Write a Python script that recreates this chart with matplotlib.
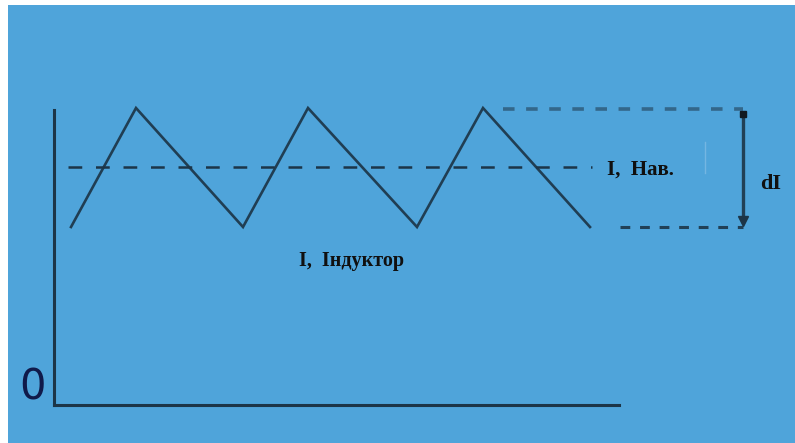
"""Inductor current ripple sketch: triangle wave, average level and dI span."""

import matplotlib
matplotlib.use("Agg")
import matplotlib.pyplot as plt
from matplotlib.patches import Rectangle

# time / current samples (arbitrary units, origin at the axes corner)
t_wave = [17, 82, 189, 254, 363, 429, 536]
i_wave = [178, 297, 178, 297, 178, 297, 178]
i_min, i_max = 178, 296
i_avg = 238
t_avg = [14, 538]
t_top = [449, 689]
t_bottom = [566, 689]
t_axis_end = 565
i_axis_end = 295

label_avg = "I,  Нав."
label_wave = "I,  Індуктор"
label_delta = "dI"
label_zero = "0"

BLUE = "#4fa4da"
INK = "#1c3548"

fig = plt.figure(figsize=(7.95, 4.43), dpi=100)
fig.patch.set_facecolor("white")
fig.patches.append(Rectangle((8 / 795, 0), 1, 1 - 5 / 443, transform=fig.transFigure,
                             facecolor=BLUE, edgecolor="none", zorder=-5))

ax = fig.add_axes([0, 0, 1, 1])
ax.set_zorder(1)
ax.set_facecolor("none")
ax.set_xlim(-54, 741)
ax.set_ylim(-38, 405)
ax.set_xticks([])
ax.set_yticks([])
for side in ("top", "right"):
    ax.spines[side].set_visible(False)
ax.spines["left"].set_position(("data", 0))
ax.spines["bottom"].set_position(("data", 0))
ax.spines["left"].set_bounds(0, i_axis_end)
ax.spines["bottom"].set_bounds(0, t_axis_end)
for side in ("left", "bottom"):
    ax.spines[side].set_color(INK)
    ax.spines[side].set_linewidth(2.2)

ax.plot(t_wave, i_wave, color=INK, lw=1.9, alpha=0.92, solid_joinstyle="miter")
ax.plot(t_avg, [i_avg, i_avg], color=INK, lw=1.8, dashes=(5.5, 5.5))
ax.plot(t_top, [i_max, i_max], color=INK, lw=2.6, alpha=0.55, dashes=(3.2, 3.2))
ax.plot(t_bottom, [i_min, i_min], color=INK, lw=2.2, alpha=0.9, dashes=(3.2, 3.2))

# dI arrow
ax.plot([t_top[1], t_top[1]], [i_max - 5, i_min + 6], color=INK, lw=2.4, alpha=0.9)
ax.plot(t_top[1], i_max - 5, marker="s", ms=4, color="#111a22")
ax.plot(t_top[1], i_min + 6, marker="v", ms=7, color=INK)
ax.plot([651, 651], [232, 263], color="#74b6e2", lw=1)

serif = dict(family="Liberation Serif", weight="bold", color="#101010")
ax.text(553, 235, label_avg, fontsize=15, ha="left", va="center", **serif)
ax.text(706, 221, label_delta, fontsize=16, ha="left", va="center", **serif)
ax.text(298, 144, label_wave, fontsize=14.5, ha="center", va="center", **serif)
ax.text(-22, 17, label_zero, fontsize=30, ha="center", va="center", color="#101a4a",
        family=["Liberation Sans Narrow", "DejaVu Sans"])

fig.savefig("out.png", dpi=100)
